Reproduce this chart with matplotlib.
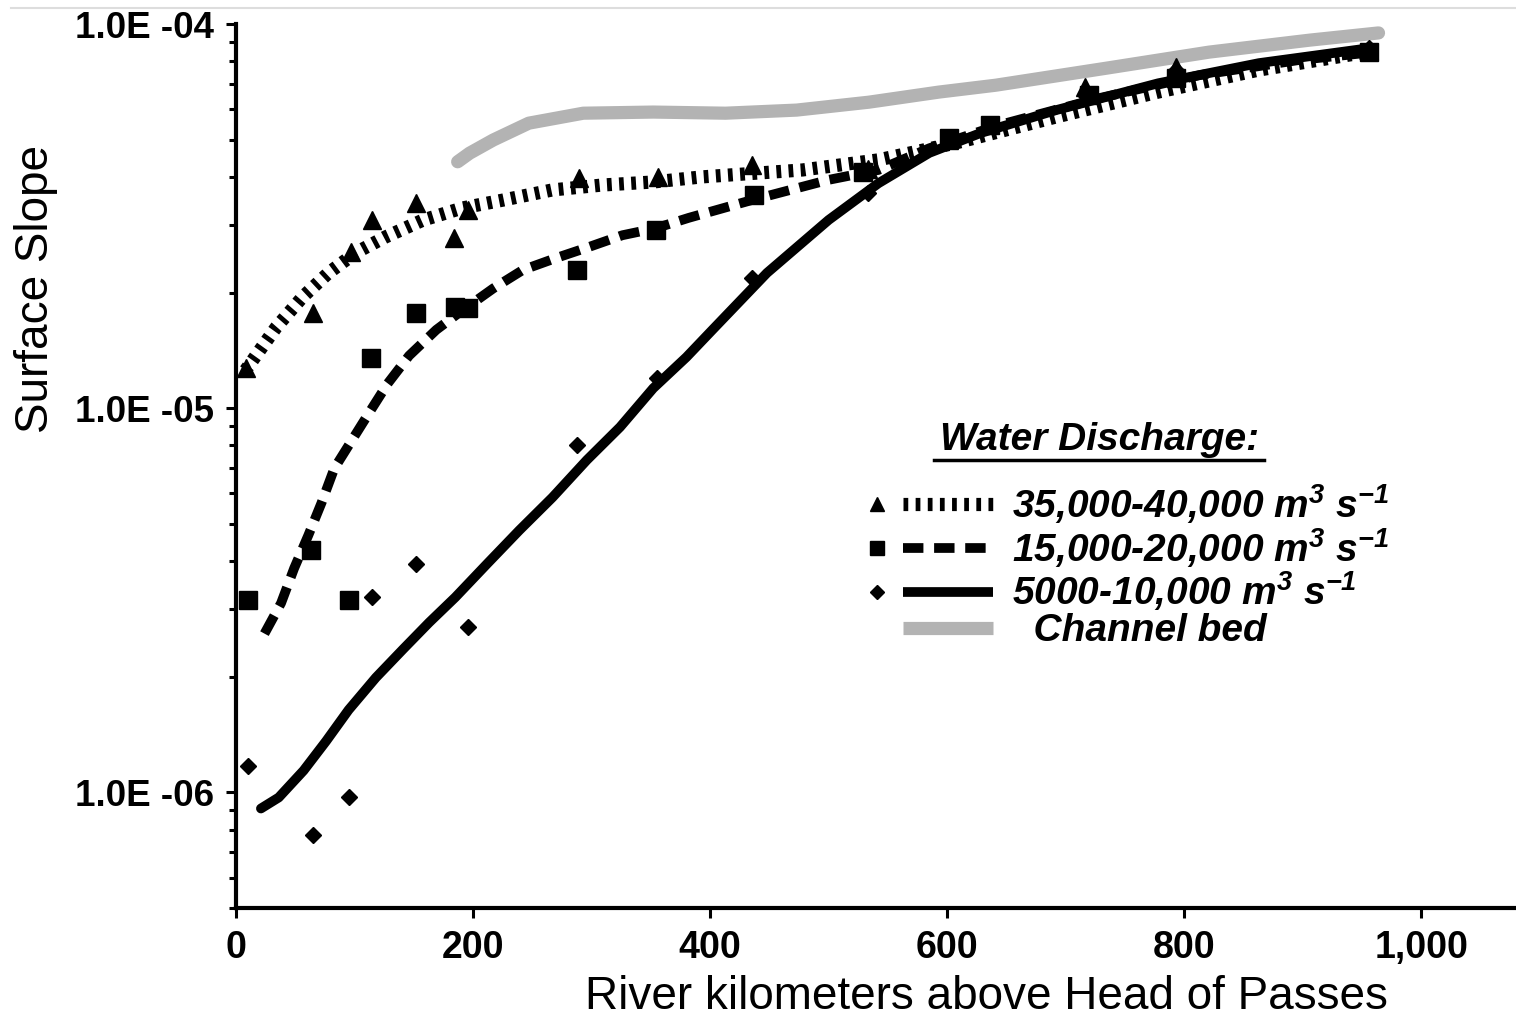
import matplotlib
matplotlib.use("Agg")
import matplotlib.pyplot as plt
from matplotlib.lines import Line2D
from matplotlib.legend_handler import HandlerBase
from matplotlib.ticker import LogLocator, FuncFormatter, FixedLocator, NullFormatter
from matplotlib.transforms import IdentityTransform
import numpy as np

plt.rcParams["font.family"] = ["Liberation Sans", "DejaVu Sans"]
plt.rcParams["mathtext.fontset"] = "custom"
for k in ("rm", "it", "bf", "sf"):
    plt.rcParams[f"mathtext.{k}"] = "Liberation Sans:bold:italic"

# measured surface slopes (river km, slope)
km_hi = [8, 65, 97, 115, 152, 184, 196, 289, 356, 435, 533, 602, 716, 793, 956]
slope_hi = [1.27e-5, 1.77e-5, 2.55e-5, 3.09e-5, 3.42e-5, 2.77e-5, 3.28e-5, 3.97e-5,
            4.0e-5, 4.3e-5, 4.2e-5, 4.99e-5, 6.86e-5, 7.73e-5, 8.56e-5]

km_mid = [10, 63, 95, 114, 152, 185, 196, 288, 354, 437, 529, 602, 636, 720, 793, 956]
slope_mid = [3.16e-6, 4.27e-6, 3.16e-6, 1.35e-5, 1.77e-5, 1.83e-5, 1.82e-5, 2.29e-5,
             2.91e-5, 3.59e-5, 4.12e-5, 5.05e-5, 5.46e-5, 6.53e-5, 7.23e-5, 8.45e-5]

km_lo = [10, 65, 95, 115, 152, 196, 288, 355, 435, 533, 602, 716, 793, 956]
slope_lo = [1.17e-6, 7.73e-7, 9.7e-7, 3.22e-6, 3.94e-6, 2.69e-6, 8.02e-6, 1.2e-5,
            2.18e-5, 3.63e-5, 4.99e-5, 6.53e-5, 7.59e-5, 8.66e-5]

# trend curves
fit_hi_km = [8, 34, 56, 78, 101, 126, 158, 191, 225, 267, 309, 352, 393, 478, 542,
             607, 692, 778, 863, 949, 962]
fit_hi = [1.256e-5, 1.626e-5, 1.945e-5, 2.25e-5, 2.54e-5, 2.79e-5, 3.09e-5, 3.32e-5,
          3.48e-5, 3.70e-5, 3.81e-5, 3.88e-5, 4.0e-5, 4.17e-5, 4.43e-5, 4.90e-5,
          5.73e-5, 6.65e-5, 7.59e-5, 8.40e-5, 8.55e-5]

fit_mid_km = [24, 38, 49, 61, 72, 83, 112, 128, 146, 169, 188, 217, 242, 270, 298,
              326, 354, 382, 435, 500, 542, 585, 644, 728, 813, 897, 960]
fit_mid = [2.59e-6, 3.11e-6, 3.83e-6, 4.67e-6, 5.66e-6, 6.98e-6, 9.70e-6, 1.16e-5,
           1.37e-5, 1.60e-5, 1.77e-5, 2.05e-5, 2.29e-5, 2.46e-5, 2.63e-5, 2.82e-5,
           2.94e-5, 3.13e-5, 3.48e-5, 3.93e-5, 4.17e-5, 4.75e-5, 5.46e-5, 6.41e-5,
           7.36e-5, 8.06e-5, 8.45e-5]

fit_lo_km = [21, 36, 57, 76, 95, 118, 141, 163, 185, 212, 239, 267, 296, 324, 352,
             380, 402, 448, 500, 542, 585, 628, 692, 778, 863, 957]
fit_lo = [9.08e-7, 9.7e-7, 1.14e-6, 1.36e-6, 1.64e-6, 1.99e-6, 2.36e-6, 2.77e-6,
          3.22e-6, 3.94e-6, 4.81e-6, 5.86e-6, 7.33e-6, 8.93e-6, 1.127e-5, 1.358e-5,
          1.60e-5, 2.25e-5, 3.09e-5, 3.85e-5, 4.62e-5, 5.20e-5, 5.97e-5, 7.01e-5,
          7.91e-5, 8.66e-5]

bed_km = [187, 197, 217, 247, 293, 352, 413, 473, 534, 593, 641, 735, 821, 906, 964]
bed = [4.38e-5, 4.61e-5, 4.99e-5, 5.52e-5, 5.86e-5, 5.90e-5, 5.86e-5, 5.97e-5,
       6.26e-5, 6.65e-5, 6.93e-5, 7.68e-5, 8.45e-5, 9.08e-5, 9.48e-5]

labels = ["35,000-40,000 m$^{3}$ s$^{-1}$",
          "15,000-20,000 m$^{3}$ s$^{-1}$",
          "5000-10,000 m$^{3}$ s$^{-1}$",
          "  Channel bed"]
x_ticks = [0, 200, 400, 600, 800, 1000]
x_ticklabels = ["0", "200", "400", "600", "800", "1,000"]


class KeyHandler(HandlerBase):
    """marker on the left, line sample to the right of it"""
    def create_artists(self, legend, orig_handle, xdescent, ydescent,
                       width, height, fontsize, trans):
        pts, line = orig_handle
        y = height / 2 - ydescent
        x0 = -xdescent
        out = []
        if pts is not None:
            m = Line2D([x0 + 0.07 * width], [y], linestyle="none",
                       marker=pts.get_marker(), markersize=pts.get_markersize() * 0.8,
                       color="black", transform=trans)
            out.append(m)
        ln = Line2D([x0 + 0.28 * width, x0 + width], [y, y])
        self.update_prop(ln, line, legend)
        ln.set_solid_capstyle("butt")
        ln.set_transform(trans)
        out.append(ln)
        return out


fig = plt.figure(figsize=(15.16, 10.18), dpi=100)
ax = fig.add_axes([0.1557, 0.108, 0.8443, 0.8684])

bed_ln, = ax.plot(bed_km, bed, color="#b3b3b3", lw=9.5, solid_capstyle="round", zorder=2)

tri, = ax.plot(km_hi, slope_hi, "^", color="black", ms=13, zorder=3, clip_on=False)
sq, = ax.plot(km_mid, slope_mid, "s", color="black", ms=12.5, zorder=3, clip_on=False)
dia, = ax.plot(km_lo, slope_lo, "D", color="black", ms=8.5, zorder=3, clip_on=False)

dot_ln, = ax.plot(fit_hi_km, fit_hi, color="black", lw=9.5,
                  linestyle=(0, (0.36, 0.56)), zorder=4)
dash_ln, = ax.plot(fit_mid_km, fit_mid, color="black", lw=7,
                   linestyle=(0, (2.1, 1.1)), zorder=4)
solid_ln, = ax.plot(fit_lo_km, fit_lo, color="black", lw=7,
                    solid_capstyle="round", solid_joinstyle="round", zorder=4)

ax.set_yscale("log")
ax.set_xlim(0, 1080)
ax.set_ylim(5e-7, 1e-4)

ax.yaxis.set_major_locator(LogLocator(base=10, numticks=10))
ax.yaxis.set_minor_locator(LogLocator(base=10, subs=np.arange(2, 10), numticks=20))
ax.yaxis.set_major_formatter(FuncFormatter(
    lambda v, p: f"1.0E -{int(round(-np.log10(v))):02d}"))
ax.yaxis.set_minor_formatter(NullFormatter())
ax.xaxis.set_major_locator(FixedLocator(x_ticks))
ax.set_xticklabels(x_ticklabels)

for s in ("top", "right"):
    ax.spines[s].set_visible(False)
for s in ("left", "bottom"):
    ax.spines[s].set_linewidth(3)

ax.tick_params(axis="y", which="major", direction="out", length=7, width=2.2,
               pad=9, labelsize=26.5)
ax.tick_params(axis="y", which="minor", direction="out", length=5, width=2.2)
ax.tick_params(axis="x", which="major", direction="out", length=7, width=2.2,
               pad=9, labelsize=27)
for lab in ax.get_xticklabels() + ax.get_yticklabels():
    lab.set_fontweight("bold")

ax.set_xlabel("River kilometers above Head of Passes", fontsize=33)
ax.xaxis.set_label_coords(0.586, -0.076)
ax.set_ylabel("Surface Slope", fontsize=33)
ax.yaxis.set_label_coords(-0.139, 0.70)

leg_font = {"weight": "bold", "style": "italic", "size": 28}
leg = ax.legend([(tri, dot_ln), (sq, dash_ln), (dia, solid_ln), (None, bed_ln)], labels,
                handler_map={tuple: KeyHandler()}, prop=leg_font, frameon=False,
                loc="upper left", bbox_to_anchor=(0.494, 0.482),
                handlelength=3.2, handletextpad=0.5, labelspacing=0.0,
                borderpad=0, borderaxespad=0)

title = ax.text(0.675, 0.529, "Water Discharge:", transform=ax.transAxes,
                ha="center", va="center", fontweight="bold", fontstyle="italic",
                fontsize=28)

# underline the legend heading and add the thin border seen at the top
fig.canvas.draw()
bb = title.get_window_extent()
fig.add_artist(Line2D([bb.x0 - 6, bb.x1 + 4], [bb.y0 - 2, bb.y0 - 2], color="black",
                      lw=2.5, transform=IdentityTransform()))
fig.add_artist(Line2D([0.007, 1.0], [0.992, 0.992], color="#dddddd", lw=1.5))

fig.savefig("out.png", dpi=100)
